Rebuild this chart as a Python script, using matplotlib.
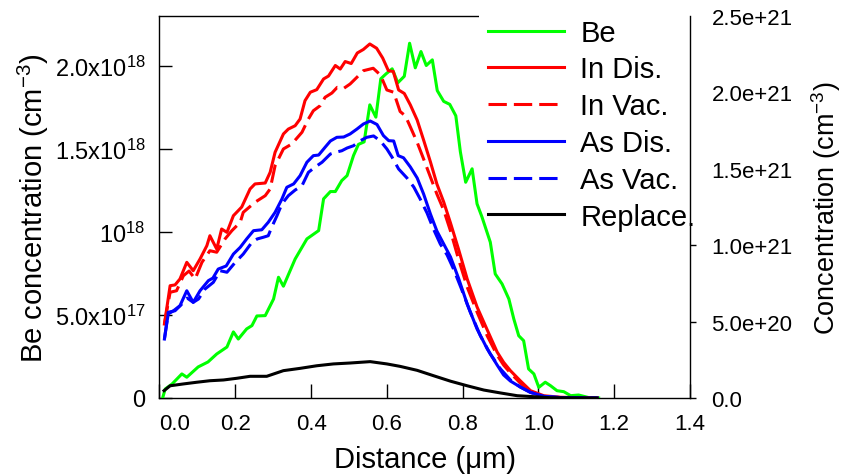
import matplotlib
matplotlib.use("Agg")
import matplotlib.pyplot as plt
from matplotlib.ticker import FixedLocator, FixedFormatter

plt.rcParams['font.family'] = ['Liberation Sans', 'DejaVu Sans']
plt.rcParams['mathtext.fontset'] = 'custom'
plt.rcParams['mathtext.rm'] = 'Liberation Sans'
plt.rcParams['mathtext.it'] = 'Liberation Sans:italic'
plt.rcParams['mathtext.bf'] = 'Liberation Sans:bold'

# ---- data (x in um; Be in 1e18 cm^-3; others in 1e21 cm^-3) ----
be_x = [0.009,0.015,0.033,0.059,0.072,0.102,0.128,0.151,0.178,0.195,0.208,0.230,0.244,0.257,0.279,0.301,0.314,0.327,0.358,0.389,0.420,0.433,0.451,0.464,0.481,0.495,0.512,0.525,0.540,0.555,0.571,0.584,0.598,0.614,0.629,0.646,0.660,0.675,0.690,0.704,0.720,0.733,0.750,0.766,0.782,0.794,0.808,0.825,0.838,0.851,0.873,0.886,0.904,0.922,0.935,0.948,0.961,0.974,0.988,1.001,1.018,1.032,1.049,1.067,1.085,1.106,1.137,1.159]
be_y = [0.006,0.054,0.084,0.145,0.125,0.187,0.217,0.265,0.307,0.398,0.355,0.416,0.436,0.494,0.496,0.596,0.727,0.673,0.837,0.958,1.008,1.199,1.243,1.243,1.309,1.339,1.460,1.527,1.542,1.765,1.691,1.922,1.952,1.982,1.898,1.937,2.136,1.988,2.086,2.002,2.036,1.851,1.786,1.768,1.699,1.482,1.299,1.380,1.169,1.090,0.938,0.747,0.687,0.596,0.476,0.375,0.345,0.175,0.145,0.064,0.095,0.074,0.044,0.038,0.014,0.018,0.0,0.0]

indis_x = [0.013,0.028,0.041,0.054,0.072,0.089,0.107,0.125,0.133,0.151,0.164,0.178,0.195,0.217,0.239,0.252,0.279,0.292,0.305,0.327,0.340,0.358,0.371,0.384,0.398,0.415,0.433,0.446,0.464,0.477,0.490,0.506,0.522,0.538,0.555,0.573,0.589,0.604,0.617,0.631,0.646,0.662,0.680,0.697,0.715,0.732,0.750,0.768,0.789,0.812,0.838,0.865,0.891,0.908,0.926,0.952,0.979,1.014,1.058,1.155]
indis_y = [0.484,0.735,0.740,0.779,0.888,0.833,0.910,0.997,1.062,0.975,1.106,1.084,1.193,1.250,1.368,1.401,1.407,1.477,1.608,1.728,1.760,1.782,1.826,1.946,2.001,2.018,2.088,2.107,2.176,2.153,2.202,2.189,2.258,2.281,2.317,2.289,2.225,2.142,2.137,2.016,1.993,1.918,1.819,1.688,1.545,1.401,1.283,1.145,0.975,0.779,0.596,0.445,0.301,0.234,0.179,0.113,0.048,0.015,0.005,0.0]

invac_x = [0.013,0.028,0.045,0.063,0.078,0.094,0.112,0.133,0.151,0.173,0.191,0.213,0.221,0.252,0.279,0.292,0.305,0.327,0.349,0.376,0.393,0.406,0.424,0.437,0.455,0.469,0.486,0.503,0.521,0.538,0.564,0.583,0.600,0.618,0.635,0.649,0.662,0.680,0.697,0.715,0.732,0.750,0.768,0.789,0.812,0.838,0.865,0.891,0.908,0.926,0.952,0.979,1.014,1.058,1.155]
invac_y = [0.484,0.692,0.702,0.800,0.831,0.779,0.888,0.964,0.954,1.041,1.095,1.150,1.215,1.281,1.324,1.368,1.520,1.630,1.662,1.739,1.826,1.880,1.913,1.968,1.996,2.033,2.026,2.055,2.099,2.142,2.158,2.114,2.016,2.001,1.875,1.846,1.774,1.673,1.564,1.446,1.335,1.230,1.093,0.910,0.726,0.563,0.406,0.281,0.216,0.164,0.098,0.039,0.010,0.003,0.0]

asdis_x = [0.013,0.023,0.037,0.054,0.072,0.089,0.107,0.129,0.141,0.155,0.176,0.195,0.213,0.230,0.248,0.270,0.287,0.305,0.323,0.336,0.354,0.371,0.389,0.406,0.420,0.437,0.451,0.468,0.486,0.503,0.521,0.538,0.556,0.574,0.591,0.605,0.618,0.630,0.644,0.662,0.680,0.697,0.715,0.732,0.750,0.768,0.789,0.812,0.838,0.865,0.891,0.908,0.926,0.952,0.979,1.014,1.058,1.155]
asdis_y = [0.386,0.550,0.571,0.604,0.702,0.626,0.702,0.768,0.785,0.844,0.864,0.942,0.986,1.041,1.095,1.101,1.150,1.215,1.302,1.379,1.401,1.455,1.543,1.586,1.590,1.641,1.682,1.706,1.708,1.728,1.760,1.793,1.813,1.790,1.717,1.684,1.682,1.586,1.572,1.512,1.440,1.335,1.204,1.093,1.008,0.923,0.785,0.615,0.452,0.321,0.216,0.151,0.111,0.072,0.037,0.011,0.003,0.0]

asvac_x = [0.013,0.023,0.041,0.059,0.073,0.089,0.103,0.120,0.142,0.160,0.178,0.200,0.221,0.244,0.258,0.274,0.287,0.296,0.310,0.323,0.340,0.358,0.376,0.393,0.411,0.429,0.451,0.464,0.481,0.495,0.512,0.530,0.547,0.565,0.583,0.600,0.614,0.631,0.653,0.671,0.688,0.706,0.723,0.741,0.759,0.776,0.797,0.820,0.847,0.873,0.900,0.926,0.952,0.979,1.014,1.058,1.155]
asvac_y = [0.386,0.561,0.571,0.615,0.654,0.626,0.648,0.713,0.757,0.833,0.823,0.888,0.942,1.019,1.041,1.052,1.062,1.117,1.193,1.270,1.324,1.361,1.389,1.477,1.512,1.543,1.597,1.608,1.618,1.636,1.651,1.684,1.706,1.715,1.682,1.630,1.575,1.499,1.440,1.381,1.302,1.211,1.106,1.008,0.936,0.844,0.713,0.563,0.406,0.288,0.190,0.118,0.072,0.036,0.010,0.003,0.0]

repl_x = [0.012,0.028,0.063,0.098,0.133,0.169,0.204,0.239,0.283,0.327,0.371,0.415,0.459,0.503,0.556,0.600,0.635,0.680,0.723,0.768,0.812,0.856,0.900,0.944,1.032,1.155]
repl_y = [0.048,0.080,0.092,0.103,0.113,0.118,0.129,0.142,0.142,0.179,0.194,0.211,0.223,0.229,0.238,0.223,0.207,0.181,0.146,0.110,0.080,0.052,0.033,0.015,0.002,0.0]

x_ticks = [0.0, 0.2, 0.4, 0.6, 0.8, 1.0, 1.2, 1.4]
x_ticklabels = ["0.0", "0.2", "0.4", "0.6", "0.8", "1.0", "1.2", "1.4"]
left_ticks = [0.0, 0.5e18, 1.0e18, 1.5e18, 2.0e18]
left_ticklabels = ["0", r"5.0x10$^{\mathregular{17}}$", r"10$^{\mathregular{18}}$",
                   r"1.5x10$^{\mathregular{18}}$", r"2.0x10$^{\mathregular{18}}$"]
right_ticks = [0.0, 0.5e21, 1.0e21, 1.5e21, 2.0e21, 2.5e21]
right_ticklabels = ["0.0", "5.0e+20", "1.0e+21", "1.5e+21", "2.0e+21", "2.5e+21"]

fig = plt.figure(figsize=(8.45, 4.77), dpi=100)
ax = fig.add_axes([159.5/845, 78/477, (690-159.5)/845, (399-17)/477])
ax2 = ax.twinx()

ax.set_xlim(0, 1.4)
ax.set_ylim(0, 2.3e18)
ax2.set_ylim(0, 2.5e21)
ax2.set_autoscale_on(False)
ax.set_autoscale_on(False)

lw = 2.2
dash = (6, 2.3)
# Be (left axis scale) drawn in the twin axes so all curves sit above the legend box
l_be, = ax2.plot(be_x, [v*1e18 for v in be_y], color='#00ff00', lw=lw, label='Be',
                 transform=ax.transData, zorder=3)
l1, = ax2.plot(indis_x, [v*1e21 for v in indis_y], color='#ff0000', lw=lw, label='In Dis.', zorder=3)
l2, = ax2.plot(invac_x, [v*1e21 for v in invac_y], color='#ff0000', lw=lw, ls=(0, dash), label='In Vac.', zorder=3)
l3, = ax2.plot(asdis_x, [v*1e21 for v in asdis_y], color='#0000ff', lw=lw, label='As Dis.', zorder=3)
l4, = ax2.plot(asvac_x, [v*1e21 for v in asvac_y], color='#0000ff', lw=lw, ls=(0, dash), label='As Vac.', zorder=3)
l5, = ax2.plot(repl_x, [v*1e21 for v in repl_y], color='#000000', lw=lw, label='Replace.', zorder=3)

ax.xaxis.set_major_locator(FixedLocator(x_ticks))
ax.xaxis.set_major_formatter(FixedFormatter(x_ticklabels))
ax.yaxis.set_major_locator(FixedLocator(left_ticks))
ax.yaxis.set_major_formatter(FixedFormatter(left_ticklabels))
ax2.yaxis.set_major_locator(FixedLocator(right_ticks))
ax2.yaxis.set_major_formatter(FixedFormatter(right_ticklabels))

ax.tick_params(axis='x', direction='in', length=10, width=1, labelsize=16, pad=11, top=False)
ax.tick_params(axis='y', direction='in', length=9, width=1, labelsize=17, pad=10, right=False)
ax2.tick_params(axis='y', direction='out', length=4.5, width=1, labelsize=16, pad=11)

for s in ['top', 'right']:
    ax.spines[s].set_visible(s == 'top')
for s in ['top', 'left', 'bottom']:
    ax2.spines[s].set_visible(False)
for a in (ax, ax2):
    for s in a.spines.values():
        s.set_linewidth(1)

ax.set_xlabel('Distance (μm)', fontsize=21, labelpad=8)
ax.set_ylabel(r'Be concentration (cm$^{\mathregular{-3}}$)', fontsize=21, labelpad=3)
ax2.set_ylabel(r'Concentration (cm$^{\mathregular{-3}}$)', fontsize=19.5, labelpad=12)

leg = ax2.legend(handles=[l_be, l1, l2, l3, l4, l5], loc='upper left',
                 bbox_to_anchor=(479/845, 1 - 11/477), bbox_transform=fig.transFigure,
                 fontsize=21, frameon=True, fancybox=False, framealpha=1,
                 edgecolor='none', facecolor='white', borderpad=0.3, borderaxespad=0,
                 handlelength=2.6, handletextpad=0.58, labelspacing=0.3)
leg.set_zorder(2.4)

fig.canvas.draw()
ax.get_xticklabels()[0].set_horizontalalignment('left')

fig.savefig('out.png', dpi=100)
